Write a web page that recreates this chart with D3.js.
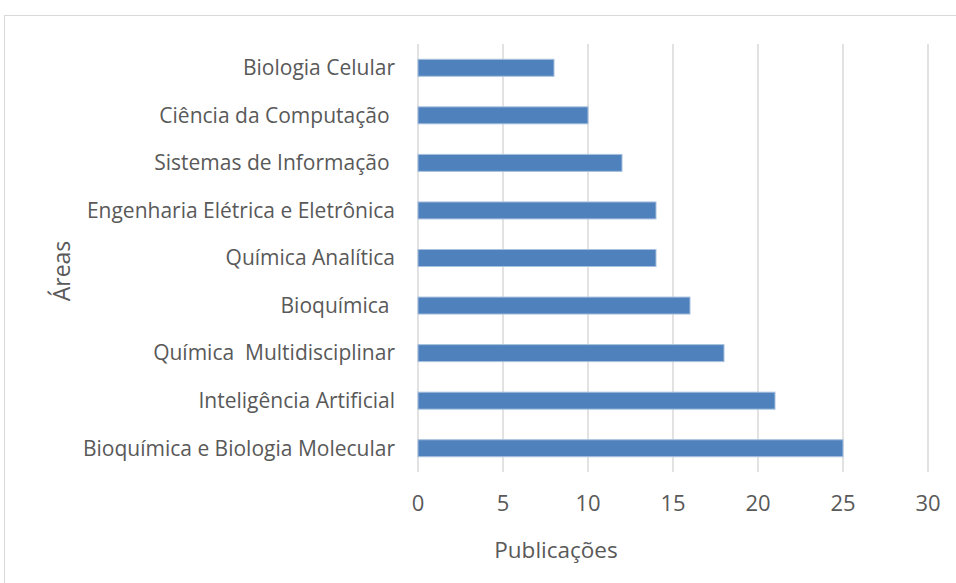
<!DOCTYPE html>
<html lang="pt">
<head>
<meta charset="UTF-8">
<title>Publicações por área</title>
<style>
	body { margin: 0; background: #fff; }
	text { font-family: "Open Sans", "Noto Sans", sans-serif; fill: #595959; white-space: pre; }
	.bar { fill: #4f81bd; stroke: #a7c0de; stroke-width: 1; }
	.grid line { stroke: #d9d9d9; stroke-width: 1.5; }
</style>
</head>
<body>
<svg class="chart"></svg>
<script src="https://d3js.org/d3.v7.min.js"></script>
<script>
	var areas = [
		"Biologia Celular",
		"Ciência da Computação ",
		"Sistemas de Informação ",
		"Engenharia Elétrica e Eletrônica",
		"Química Analítica",
		"Bioquímica ",
		"Química  Multidisciplinar",
		"Inteligência Artificial",
		"Bioquímica e Biologia Molecular"
	];
	var publicacoes = [8, 10, 12, 14, 14, 16, 18, 21, 25];
	var xTicks = [0, 5, 10, 15, 20, 25, 30];

	var width = 956,
	    height = 583;

	var plotLeft = 418, plotRight = 928, plotTop = 44, plotBottom = 472;

	var svg = d3.select(".chart")
	    .attr("width", width)
	    .attr("height", height);

	// chart border
	svg.append("rect")
	    .attr("x", 4.5)
	    .attr("y", 15.5)
	    .attr("width", 960)
	    .attr("height", 600)
	    .attr("fill", "none")
	    .attr("stroke", "#d9d9d9");

	var x = d3.scaleLinear()
	    .domain([0, 30])
	    .range([plotLeft, plotRight]);

	var y = d3.scaleBand()
	    .domain(areas)
	    .range([plotTop, plotBottom])
	    .paddingInner(0.643)
	    .paddingOuter(0.3215);

	svg.append("g")
	    .attr("class", "grid")
	    .selectAll("line")
	    .data(xTicks)
	    .enter().append("line")
	    .attr("x1", d => x(d))
	    .attr("x2", d => x(d))
	    .attr("y1", plotTop)
	    .attr("y2", plotBottom);

	svg.selectAll(".bar")
	    .data(areas)
	    .enter().append("rect")
	    .attr("class", "bar")
	    .attr("x", x(0))
	    .attr("y", d => y(d))
	    .attr("width", (d, i) => x(publicacoes[i]) - x(0))
	    .attr("height", y.bandwidth());

	svg.append("g")
	    .selectAll("text")
	    .data(areas)
	    .enter().append("text")
	    .attr("x", plotLeft - 23)
	    .attr("y", d => y(d) + y.bandwidth() / 2)
	    .attr("dy", "0.35em")
	    .attr("text-anchor", "end")
	    .attr("font-size", 21)
	    .text(d => d);

	svg.append("g")
	    .selectAll("text")
	    .data(xTicks)
	    .enter().append("text")
	    .attr("x", d => x(d))
	    .attr("y", 503)
	    .attr("dy", "0.35em")
	    .attr("text-anchor", "middle")
	    .attr("font-size", 22)
	    .text(d => d);

	svg.append("text")
	    .attr("x", 556)
	    .attr("y", 550)
	    .attr("dy", "0.35em")
	    .attr("text-anchor", "middle")
	    .attr("font-size", 22.5)
	    .text("Publicações");

	svg.append("text")
	    .attr("transform", "translate(62,271) rotate(-90)")
	    .attr("dy", "0.35em")
	    .attr("text-anchor", "middle")
	    .attr("font-size", 23)
	    .text("Áreas");
</script>
</body>
</html>
